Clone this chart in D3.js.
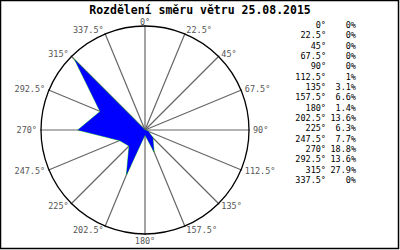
<!DOCTYPE html>
<html>
<head>
<meta charset="utf-8">
<script src="https://cdn.jsdelivr.net/npm/d3@7"></script>
<style>
body { margin: 0; background: #fff; }
svg { display: block; }
</style>
</head>
<body>
<svg id="chart" width="400" height="250"></svg>
<script>
const title = "Rozdělení směru větru 25.08.2015";
const directions = [0, 22.5, 45, 67.5, 90, 112.5, 135, 157.5, 180, 202.5, 225, 247.5, 270, 292.5, 315, 337.5];
const shares = [0, 0, 0, 0, 0, 1, 3.1, 6.6, 1.4, 13.6, 6.3, 7.7, 18.8, 13.6, 27.9, 0];

const svg = d3.select("#chart");
const cx = 145, cy = 130, R = 104;
const labelFont = "'DejaVu Sans Mono', monospace";

svg.append("rect")
  .attr("x", 0.5).attr("y", 0.5)
  .attr("width", 398).attr("height", 248)
  .attr("fill", "#fff")
  .attr("stroke", "#000")
  .attr("stroke-width", 1.5);

svg.append("text")
  .attr("x", 200).attr("y", 14)
  .attr("text-anchor", "middle")
  .attr("font-family", labelFont)
  .attr("font-weight", "bold")
  .attr("font-size", "11.5px")
  .text(title);

const g = svg.append("g").attr("transform", `translate(${cx},${cy})`);

// scale: percent -> radius
const r = d3.scaleLinear().domain([0, 29.1]).range([0, R]);
const rad = d => d * Math.PI / 180;

// spokes
g.selectAll(".spoke")
  .data(directions)
  .join("line")
  .attr("class", "spoke")
  .attr("x1", 0).attr("y1", 0)
  .attr("x2", d => Math.sin(rad(d)) * (R + 1))
  .attr("y2", d => -Math.cos(rad(d)) * (R + 1))
  .attr("stroke", "#666")
  .attr("stroke-width", 1.2);

// polygon
const line = d3.lineRadial()
  .angle((d, i) => rad(directions[i]))
  .radius(d => r(d))
  .curve(d3.curveLinearClosed);

g.append("path")
  .attr("d", line(shares))
  .attr("fill", "none")
  .attr("stroke", "#00cc00")
  .attr("stroke-width", 0.7);

g.append("path")
  .attr("d", line(shares))
  .attr("fill", "#0000ff")
  .attr("stroke", "none");

// outer circle
g.append("circle")
  .attr("r", R)
  .attr("fill", "none")
  .attr("stroke", "#000")
  .attr("stroke-width", 1.3);

// direction labels
g.selectAll(".dir")
  .data(directions)
  .join("text")
  .attr("class", "dir")
  .attr("x", d => Math.sin(rad(d)) * (R + 4))
  .attr("y", d => -Math.cos(rad(d)) * (R + 4))
  .attr("text-anchor", d => {
    const s = Math.sin(rad(d));
    return s > 0.1 ? "start" : s < -0.1 ? "end" : "middle";
  })
  .attr("dy", d => {
    const c = Math.cos(rad(d));
    if (Math.abs(Math.sin(rad(d))) < 0.1) return c > 0 ? "0.3em" : "0.75em";
    return "0.35em";
  })
  .attr("font-family", labelFont)
  .attr("font-size", "8.5px")
  .attr("fill", "#555")
  .text(d => d + "°");

// table on the right
const rowH = 10.33, tableTop = 28;
const rows = svg.append("g");
rows.selectAll(".ang")
  .data(directions)
  .join("text")
  .attr("class", "ang")
  .attr("x", 326)
  .attr("y", (d, i) => tableTop + i * rowH)
  .attr("text-anchor", "end")
  .attr("font-family", labelFont)
  .attr("font-size", "8.5px")
  .text(d => d + "°");

rows.selectAll(".pct")
  .data(shares)
  .join("text")
  .attr("class", "pct")
  .attr("x", 356)
  .attr("y", (d, i) => tableTop + i * rowH)
  .attr("text-anchor", "end")
  .attr("font-family", labelFont)
  .attr("font-size", "8.5px")
  .text(d => d + "%");
</script>
</body>
</html>
